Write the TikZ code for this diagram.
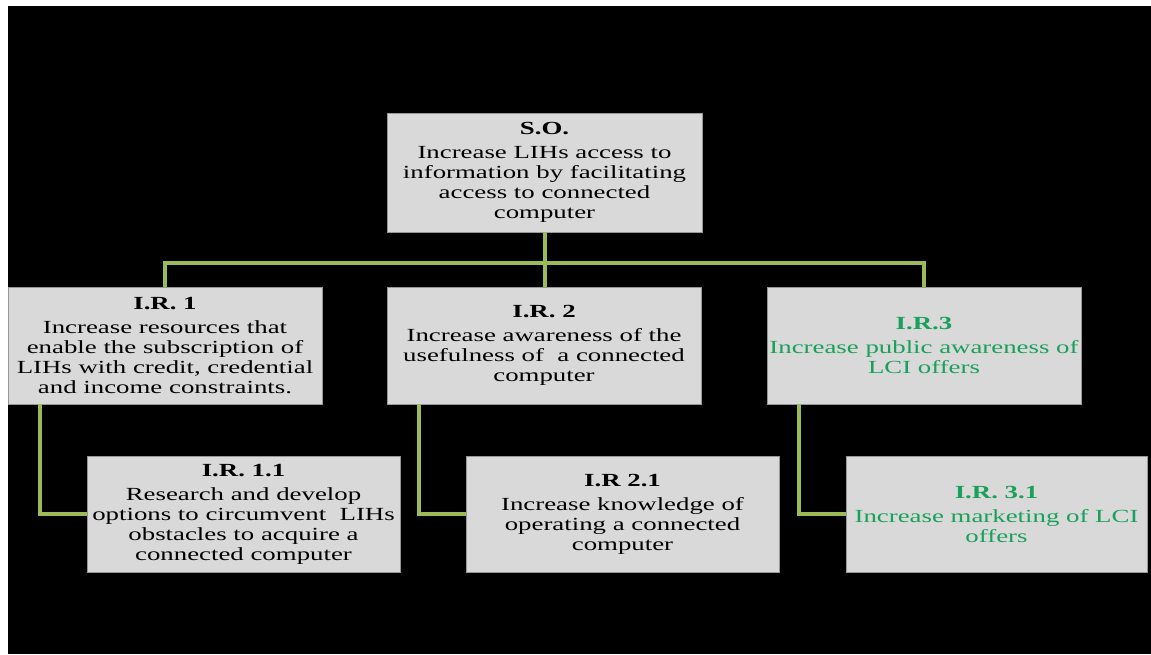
\documentclass[tikz,border=0pt]{standalone}
\usepackage{fontspec}
\setmainfont{Liberation Serif}[FakeStretch=1.45]
\definecolor{boxfill}{RGB}{217,217,217}
\definecolor{boxline}{RGB}{150,150,150}
\definecolor{linkgreen}{RGB}{155,187,89}
\definecolor{txtgreen}{RGB}{25,160,90}
\tikzset{
  box/.style={draw=boxline, line width=0.8pt, fill=boxfill, inner sep=0pt,
    align=center, font=\fontsize{18.5}{20}\selectfont},
  link/.style={draw=linkgreen, line width=4pt},
}
\newcommand{\ttl}[1]{\textbf{#1}\\[4pt]}
\begin{document}
\begin{tikzpicture}[x=1pt,y=-1pt]
\fill[white] (0,0) rectangle (1151,654);
\fill[black] (8,6) rectangle (1151,654);
\useasboundingbox (0,0) rectangle (1151,654);

\node[box, minimum width=315, minimum height=119] (so) at (544.5,172.5)
  {\ttl{S.O.}Increase LIHs access to\\information by facilitating\\access to connected\\computer};
\node[box, minimum width=314, minimum height=117] (ir1) at (165,345.5)
  {\ttl{I.R. 1}Increase resources that\\enable the subscription of\\LIHs with credit, credential\\and income constraints.};
\node[box, minimum width=314, minimum height=117] (ir2) at (544,345.5)
  {\ttl{I.R. 2}Increase awareness of the\\usefulness of~ a connected\\computer};
\node[box, minimum width=314, minimum height=117, text=txtgreen] (ir3) at (924,345.5)
  {\ttl{I.R.3}Increase public awareness of\\LCI offers};
\node[box, minimum width=313, minimum height=116] (ir11) at (243.5,514)
  {\ttl{I.R. 1.1}Research and develop\\options to circumvent~ LIHs\\obstacles to acquire a\\connected computer};
\node[box, minimum width=313, minimum height=116] (ir21) at (622.5,514)
  {\ttl{I.R 2.1}Increase knowledge of\\operating a connected\\computer};
\node[box, minimum width=301, minimum height=116, text=txtgreen] (ir31) at (996.5,514)
  {\ttl{I.R. 3.1}Increase marketing of LCI\\offers};

\coordinate (bar) at (545,263);
\draw[link] (so.south) -- (so.south |- ir2.north);
\draw[link] (ir1.north) |- (bar) -| (ir3.north);
\draw[link] ([xshift=32]ir1.south west) |- (ir11.west);
\draw[link] ([xshift=32]ir2.south west) |- (ir21.west);
\draw[link] ([xshift=32]ir3.south west) |- (ir31.west);
\end{tikzpicture}
\end{document}
